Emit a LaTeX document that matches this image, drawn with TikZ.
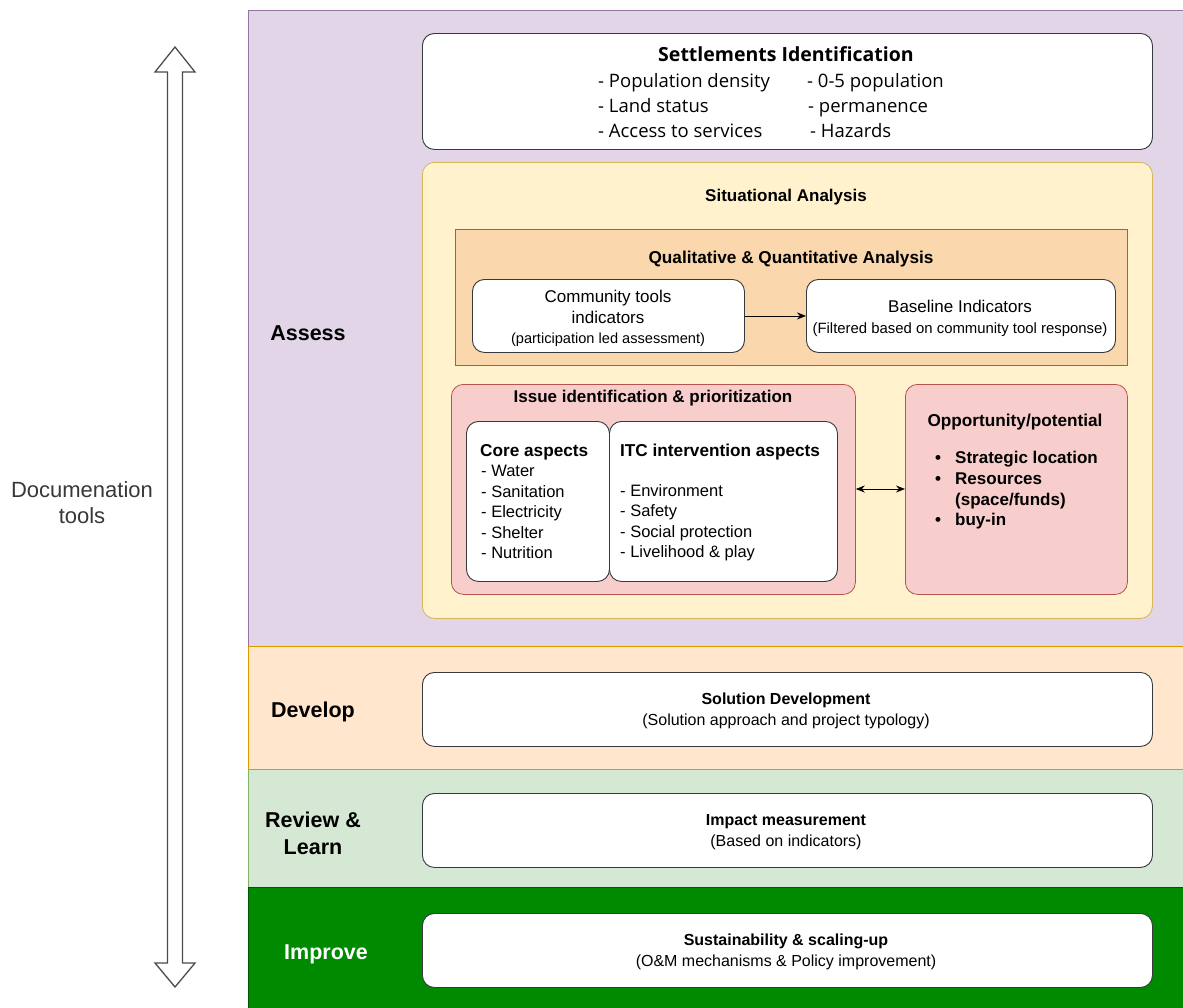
\documentclass[tikz,border=0pt]{standalone}
\usepackage{fontspec}
\setmainfont{Liberation Sans}
\newfontfamily\headfont{Open Sans}
\usetikzlibrary{arrows.meta}
\definecolor{purpleF}{HTML}{E1D5E7}\definecolor{purpleD}{HTML}{9673A6}
\definecolor{peachF}{HTML}{FFE6CC}\definecolor{peachD}{HTML}{D79B00}
\definecolor{mintF}{HTML}{D5E8D4}\definecolor{mintD}{HTML}{82B366}
\definecolor{leafF}{HTML}{008A00}\definecolor{leafD}{HTML}{005700}
\definecolor{sandF}{HTML}{FFF2CC}\definecolor{sandD}{HTML}{D6B656}
\definecolor{amberF}{HTML}{FAD7AC}\definecolor{amberD}{HTML}{B46504}
\definecolor{roseF}{HTML}{F8CECC}\definecolor{roseD}{HTML}{B85450}
\definecolor{inkD}{HTML}{36393D}
\newcommand{\fsz}[1]{\fontsize{#1}{#1}\selectfont}
\tikzset{
  band/.style={draw=#1D, fill=#1F, line width=0.8pt},
  panel/.style={draw=#1D, fill=#1F, rounded corners=12pt, line width=0.8pt},
  whitebox/.style={draw=inkD, fill=white, rounded corners=12pt, line width=0.9pt},
  ctr/.style={inner sep=0pt, anchor=base},
  lft/.style={inner sep=0pt, anchor=base west},
  phase/.style={inner sep=0pt, anchor=base, font=\fsz{21.5}\bfseries},
  tip/.tip={Stealth[length=9pt,width=7pt]},
  link/.style={-tip, line width=0.9pt, black},
}
\begin{document}
\begin{tikzpicture}[x=1pt,y=-1pt]
\useasboundingbox (0,0) rectangle (1183,1007);
\fill[white] (0,0) rectangle (1183,1007);

% phase bands
\path[band=purple] (248,10) rectangle (1190,646);
\path[band=peach] (248,646) rectangle (1190,769);
\path[band=mint] (248,769) rectangle (1190,887);
\path[band=leaf] (248,887) rectangle (1190,1012);

\node[phase] (assess) at (308,340) {Assess};
\node[phase] (develop) at (313,717) {Develop};
\node[phase] (review) at (313,827) {Review \&};
\node[phase] (learn) at (313,854) {Learn};
\node[phase, text=white] (improve) at (326,959) {Improve};

% documentation arrow
\draw[line width=1.3pt, draw=black!70, fill=white, line join=miter]
  (175,47) -- (195,72) -- (182.5,72) -- (182.5,963) -- (195,963) -- (175,987)
  -- (155,963) -- (167.5,963) -- (167.5,72) -- (155,72) -- cycle;
\node[ctr, font=\fsz{22}, text=black!78] (doc) at (82,497) {Documenation};
\node[ctr, font=\fsz{22}, text=black!78] (doc2) at (82,523) {tools};

% settlements identification
\node[whitebox, anchor=north west, minimum width=730pt, minimum height=116pt] (settle) at (422,33) {};
\node[ctr, font=\headfont\fsz{19.5}\bfseries] (settleT) at (786,61) {Settlements Identification};
\node[lft, font=\headfont\fsz{18.5}] (s1) at (598,87) {- Population density};
\node[lft, font=\headfont\fsz{18.5}] (s2) at (598,112) {- Land status};
\node[lft, font=\headfont\fsz{18.5}] (s3) at (598,137) {- Access to services};
\node[lft, font=\headfont\fsz{18.5}] (s4) at (807,87) {- 0-5 population};
\node[lft, font=\headfont\fsz{18.5}] (s5) at (808,112) {- permanence};
\node[lft, font=\headfont\fsz{18.5}] (s6) at (810,137) {- Hazards};

% situational analysis
\node[panel=sand, anchor=north west, minimum width=730pt, minimum height=456pt] (situ) at (422,162) {};
\node[ctr, font=\fsz{17}\bfseries] (situT) at (786,201) {Situational Analysis};

% qualitative & quantitative analysis
\path[band=amber] (455,229) rectangle (1127,365);
\node[ctr, font=\fsz{17.2}\bfseries] (qualT) at (791,263) {Qualitative \& Quantitative Analysis};
\node[whitebox, anchor=north west, minimum width=272pt, minimum height=73pt] (comm) at (472,279) {};
\node[ctr, font=\fsz{17}] (commT) at (608,302) {Community tools};
\node[ctr, font=\fsz{17}] (commT2) at (608,323) {indicators};
\node[ctr, font=\fsz{14.6}] (commS) at (608,343) {(participation led assessment)};
\node[whitebox, anchor=north west, minimum width=309pt, minimum height=73pt] (base) at (806,279) {};
\node[ctr, font=\fsz{17}] (baseT) at (960,312) {Baseline Indicators};
\node[ctr, font=\fsz{14.9}] (baseS) at (960,333) {(Filtered based on community tool response)};
\draw[link] (comm.east) -- (base.west);

% issue identification & prioritization
\node[panel=rose, anchor=north west, minimum width=404pt, minimum height=210pt] (issue) at (451,384) {};
\node[ctr, font=\fsz{17}\bfseries] (issueT) at (653,402) {Issue identification \& prioritization};
\node[whitebox, anchor=north west, minimum width=143pt, minimum height=160pt] (core) at (466,421) {};
\node[whitebox, anchor=north west, minimum width=228pt, minimum height=160pt] (itc) at (609,421) {};
\node[lft, font=\fsz{17.2}\bfseries] (coreT) at (480,456) {Core aspects};
\node[lft, font=\fsz{16.5}] (c1) at (481,476) {- Water};
\node[lft, font=\fsz{16.5}] (c2) at (481,497) {- Sanitation};
\node[lft, font=\fsz{16.5}] (c3) at (481,517) {- Electricity};
\node[lft, font=\fsz{16.5}] (c4) at (481,538) {- Shelter};
\node[lft, font=\fsz{16.5}] (c5) at (481,558) {- Nutrition};
\node[lft, font=\fsz{17.2}\bfseries] (itcT) at (620,456) {ITC intervention aspects};
\node[lft, font=\fsz{16.5}] (i1) at (620,496) {- Environment};
\node[lft, font=\fsz{16.5}] (i2) at (620,516) {- Safety};
\node[lft, font=\fsz{16.5}] (i3) at (620,537) {- Social protection};
\node[lft, font=\fsz{16.5}] (i4) at (620,557) {- Livelihood \& play};

% opportunity / potential
\node[panel=rose, anchor=north west, minimum width=222pt, minimum height=210pt] (opp) at (905,384) {};
\node[ctr, font=\fsz{17.2}\bfseries] (oppT) at (1015,426) {Opportunity/potential};
\node[ctr, font=\fsz{17}\bfseries] (b1) at (938,463) {\textbullet};
\node[ctr, font=\fsz{17}\bfseries] (b2) at (938,484) {\textbullet};
\node[ctr, font=\fsz{17}\bfseries] (b3) at (938,525) {\textbullet};
\node[lft, font=\fsz{17}\bfseries] (o1) at (955,463) {Strategic location};
\node[lft, font=\fsz{17}\bfseries] (o2) at (955,484) {Resources};
\node[lft, font=\fsz{17}\bfseries] (o3) at (955,505) {(space/funds)};
\node[lft, font=\fsz{17}\bfseries] (o4) at (955,525) {buy-in};
\draw[link, tip-tip] (issue.east |- 0,489) -- (opp.west |- 0,489);

% develop / review / improve
\node[whitebox, anchor=north west, minimum width=730pt, minimum height=74pt] (sol) at (422,672) {};
\node[ctr, font=\fsz{16}\bfseries] (solT) at (786,704) {Solution Development};
\node[ctr, font=\fsz{16}] (solS) at (786,725) {(Solution approach and project typology)};
\node[whitebox, anchor=north west, minimum width=730pt, minimum height=74pt] (imp) at (422,793) {};
\node[ctr, font=\fsz{16}\bfseries] (impT) at (786,825) {Impact measurement};
\node[ctr, font=\fsz{16}] (impS) at (786,846) {(Based on indicators)};
\node[whitebox, anchor=north west, minimum width=730pt, minimum height=74pt] (sus) at (422,913) {};
\node[ctr, font=\fsz{16}\bfseries] (susT) at (786,945) {Sustainability \& scaling-up};
\node[ctr, font=\fsz{16}] (susS) at (786,966) {(O\&M mechanisms \& Policy improvement)};
\end{tikzpicture}
\end{document}
